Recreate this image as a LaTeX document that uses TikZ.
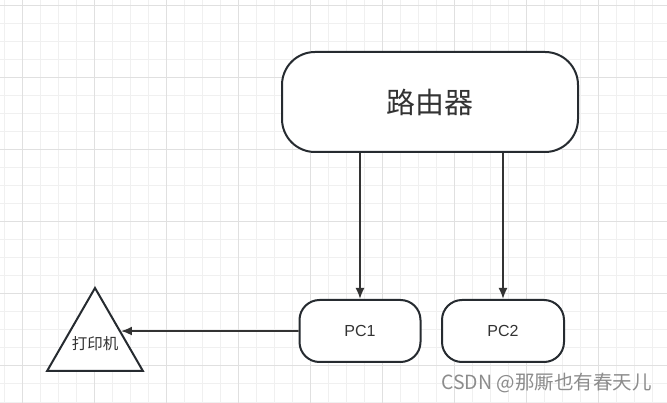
\documentclass[tikz,border=0pt]{standalone}
\usepackage{fontspec}
\setmainfont{Liberation Sans}
\newfontfamily\cjk{Noto Sans CJK SC}
\usetikzlibrary{arrows.meta,shapes.geometric}
\definecolor{edge}{HTML}{262B30}
\definecolor{ink}{HTML}{333333}
\begin{document}
\begin{tikzpicture}[x=1pt,y=-1pt,
	minor/.style={draw=black!6,line width=1pt},
	major/.style={draw=black!12,line width=1pt},
	box/.style={draw=edge,line width=2pt,fill=white,text=ink,inner sep=0pt},
	conn/.style={draw=ink,line width=1.8pt,-{Latex[length=11pt,width=9pt]}}]
	\useasboundingbox (0,0) rectangle (667,403);
	\fill[white] (0,0) rectangle (667,403);
	% grid
	\foreach \x in {4,22,...,667}	\draw[minor] (\x,0) -- (\x,403);
	\foreach \y in {6,24,...,403}	\draw[minor] (0,\y) -- (667,\y);
	\foreach \x in {22,94,...,667}	\draw[major] (\x,0) -- (\x,403);
	\foreach \y in {6,78,...,403}	\draw[major] (0,\y) -- (667,\y);
	% nodes
	\node (router) at (430,102)	[box, rounded corners=33pt, minimum width=296pt, minimum height=100pt]	{\cjk\fontsize{29}{33}\selectfont 路由器};
	\node (pc1) at (360,331)	[box, rounded corners=20pt, minimum width=121pt, minimum height=62pt]	{\fontsize{16}{19}\selectfont PC1};
	\node (pc2) at (503,331)	[box, rounded corners=20pt, minimum width=122pt, minimum height=62pt]	{\fontsize{16}{19}\selectfont PC2};
	\node (printer) at (95,343.3)	[box, regular polygon, regular polygon sides=3, minimum size=110.6pt,
		label={[text=ink,font=\cjk\fontsize{15.5}{18}\selectfont]center:打印机}]	{};
	\node (mark) at (652,383)	[anchor=east, text=black!45, inner sep=0pt]	{\cjk\fontsize{19.5}{23}\selectfont CSDN @那厮也有春天儿};
	% connectors
	\coordinate (pin) at (intersection of pc1.west--pc1.center and printer.corner 1--printer.corner 3);
	\draw[conn] (router.south -| pc1.north) -- (pc1.north);
	\draw[conn] (router.south -| pc2.north) -- (pc2.north);
	\draw[conn] (pc1.west) -- (pin);
\end{tikzpicture}
\end{document}
